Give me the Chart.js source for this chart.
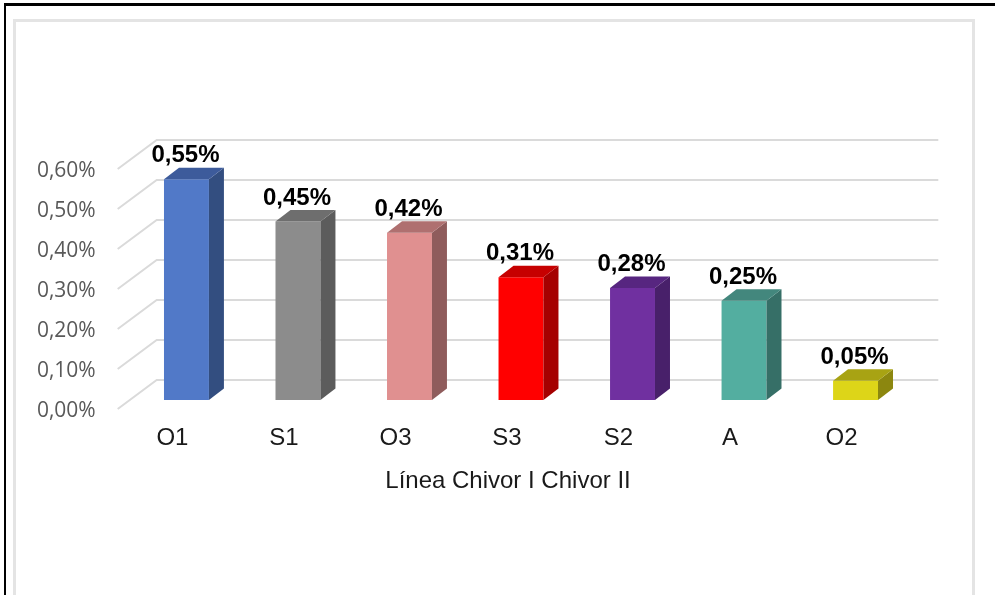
<!DOCTYPE html>
<html>
<head>
<meta charset="utf-8">
<script src="https://cdn.jsdelivr.net/npm/chart.js@4"></script>
<style>
  html, body { margin: 0; padding: 0; background: #fff; overflow: hidden; }
  #frame { position: absolute; left: 4px; top: 3px; width: 995px; height: 600px; border-style: solid; border-color: #000; border-width: 3px 0 0 2px; box-sizing: border-box; }
  #inner { position: absolute; left: 13px; top: 19px; width: 962px; height: 600px; border: 3px solid #e4e4e4; box-sizing: border-box; }
  #chart { position: absolute; left: 21px; top: 0; }
</style>
</head>
<body>
<div id="frame"></div>
<div id="inner"></div>
<canvas id="chart" width="974" height="595"></canvas>
<script>
const categories = ['O1', 'S1', 'O3', 'S3', 'S2', 'A', 'O2'];
// bar heights as measured on the picture, the printed labels are rounded
const values = [0.552, 0.446, 0.418, 0.307, 0.28, 0.248, 0.048];
const valueLabels = ['0,55%', '0,45%', '0,42%', '0,31%', '0,28%', '0,25%', '0,05%'];
const frontColors = ['#5179C8', '#8C8C8C', '#E09090', '#FF0000', '#7030A0', '#53AEA0', '#DDD518'];
const sideColors = ['#334E80', '#5C5C5C', '#8F5C5C', '#A50000', '#48206A', '#366F67', '#8C870F'];
const topColors = ['#3D5B9B', '#6E6E6E', '#AF7070', '#C60000', '#572680', '#43877D', '#A8A313'];

const DEPTH_X = 15, DEPTH_Y = 11.5;

// back wall, floor edge and the small diagonals on the left
const wallPlugin = {
    id: 'wall',
    beforeDatasetsDraw(chart) {
        const { ctx } = chart;
        const y = chart.scales.y;
        const left = chart.chartArea.left;
        ctx.save();
        ctx.strokeStyle = '#dadada';
        ctx.lineWidth = 2;
        y.ticks.forEach(t => {
            const py = y.getPixelForValue(t.value);
            ctx.beginPath();
            ctx.moveTo(left - 13, py + 9);
            ctx.lineTo(left + 26, py - 20);
            ctx.lineTo(chart.chartArea.right + 27, py - 20);
            ctx.stroke();
        });
        ctx.restore();
    }
};

// side + top face of every bar, and the value labels above
const boxPlugin = {
    id: 'box',
    afterDatasetsDraw(chart) {
        const { ctx } = chart;
        chart.getDatasetMeta(0).data.forEach((bar, i) => {
            const l = bar.x - bar.width / 2, r = bar.x + bar.width / 2;
            ctx.fillStyle = sideColors[i];
            ctx.beginPath();
            ctx.moveTo(r, bar.y);
            ctx.lineTo(r + DEPTH_X, bar.y - DEPTH_Y);
            ctx.lineTo(r + DEPTH_X, bar.base - DEPTH_Y);
            ctx.lineTo(r, bar.base);
            ctx.fill();
            ctx.fillStyle = topColors[i];
            ctx.beginPath();
            ctx.moveTo(l, bar.y);
            ctx.lineTo(l + DEPTH_X, bar.y - DEPTH_Y);
            ctx.lineTo(r + DEPTH_X, bar.y - DEPTH_Y);
            ctx.lineTo(r, bar.y);
            ctx.fill();
            ctx.fillStyle = '#000';
            ctx.font = 'bold 24px "Liberation Sans"';
            ctx.textAlign = 'center';
            ctx.textBaseline = 'middle';
            ctx.fillText(valueLabels[i], bar.x - 1, bar.y - 23.5);
        });
    }
};

new Chart(document.getElementById('chart').getContext('2d'), {
    type: 'bar',
    data: {
        labels: categories,
        datasets: [{
            data: values,
            backgroundColor: frontColors,
            barPercentage: 0.403,
            categoryPercentage: 1
        }]
    },
    plugins: [wallPlugin, boxPlugin],
    options: {
        responsive: false,
        animation: false,
        devicePixelRatio: 1,
        layout: { padding: { top: 160, right: 0, bottom: 99, left: 0 } },
        plugins: {
            legend: { display: false },
            tooltip: { enabled: false },
            title: {
                display: true,
                position: 'bottom',
                text: 'Línea Chivor I Chivor II',
                color: '#1a1a1a',
                padding: 0,
                font: { family: '"Liberation Sans"', size: 24, weight: 'normal' }
            }
        },
        scales: {
            x: {
                grid: { display: false },
                border: { display: false },
                afterFit(scale) { scale.height = 67.2; },
                ticks: {
                    color: '#1a1a1a',
                    padding: 16,
                    labelOffset: -14,
                    maxRotation: 0,
                    font: { family: '"Liberation Sans"', size: 24 }
                }
            },
            y: {
                min: 0,
                max: 0.6,
                grid: { display: false },
                border: { display: false },
                afterFit(scale) { scale.width = 109.7; },
                ticks: {
                    stepSize: 0.1,
                    color: '#595959',
                    padding: 27,
                    labelOffset: 11,
                    callback: v => v.toFixed(2).replace('.', ',') + '%',
                    font: { family: '"Open Sans"', size: 21 }
                }
            },
            // empty axis, only keeps the plot clear of the right side
            yRight: {
                position: 'right',
                grid: { display: false },
                border: { display: false },
                ticks: { display: false },
                afterFit(scale) { scale.width = 83.7; }
            }
        }
    }
});
</script>
</body>
</html>
